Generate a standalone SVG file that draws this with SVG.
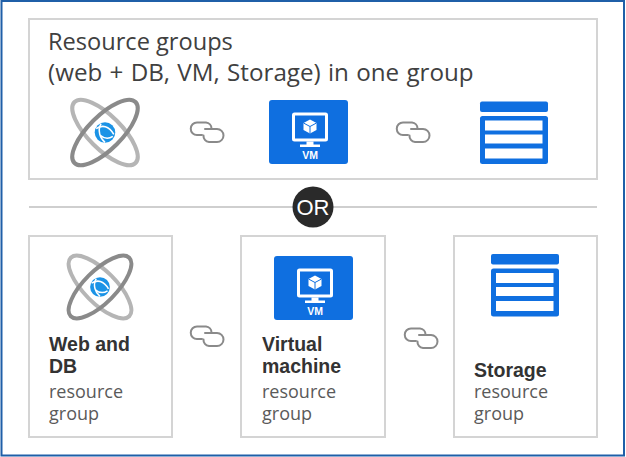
<svg xmlns="http://www.w3.org/2000/svg" width="626" height="457" viewBox="0 0 626 457">
<defs>
<style>
text{font-family:"Open Sans","Noto Sans","Liberation Sans",sans-serif;fill:#404040}
.h{font-size:23.6px}
.b{font-weight:700;font-size:19.5px;fill:#333;font-family:"Liberation Sans",Arial,sans-serif}
.r{font-size:18px;fill:#5a5a5a}
.box{fill:#fff;stroke:#d4d4d4;stroke-width:2}
.blue{fill:#0f6fe0}
</style>
<g id="link"><g fill="none" stroke="#8a8a8a" stroke-width="2" stroke-linecap="round">
<path d="M11 14H6a5.800 5.800 0 0 1 0-12.500H15a6 6 0 0 1 5.500 6"/>
<path d="M14 8H26a6 6 0 0 1 0 13H18a6 6 0 0 1-5.500-6.500"/></g></g>
<g id="orb"><g fill="none" stroke-width="4.200">
<ellipse rx="44" ry="17" transform="rotate(45)" stroke="#b5b5b5"/>
<ellipse rx="44" ry="17" transform="rotate(-45)" stroke="#8a8a8a"/></g>
<circle r="14.500" fill="#fff"/>
<circle r="10.500" fill="#1b93e6"/>
<g fill="none" stroke="#fff" stroke-width="1.600"><path d="M-9-4C-3-8 4-7 9 2"/><path d="M-4-9C-8-2-5 6 0 10"/><path d="M-5 3C0 7 5 6 8 4"/></g></g>
<g id="vm"><rect width="79" height="64" rx="3" class="blue"/>
<g fill="none" stroke="#fff"><rect x="24.500" y="14" width="33" height="26" rx="1" stroke-width="3"/></g>
<path d="M37.500 41.500H44.500V44.500H51V47H31V44.500H37.500Z" fill="#fff"/>
<path d="M41 19.500L47.500 23V30L41 33.500L34.500 30V23Z" fill="#fff"/>
<path d="M34.500 23L41 26.500L47.500 23M41 26.500V33.500" fill="none" stroke="#0f6fe0" stroke-width="1"/>
<text x="41" y="59" text-anchor="middle" style="font-size:10.500px;font-weight:700;fill:#fff;font-family:'Liberation Sans',sans-serif">VM</text></g>
<g id="tbl"><rect width="68" height="10.500" rx="2" class="blue"/>
<rect y="14.500" width="68" height="48" rx="2.500" class="blue"/>
<rect x="5" y="19" width="57.500" height="10" fill="#fff"/>
<rect x="5" y="33" width="57.500" height="9" fill="#fff"/>
<rect x="5" y="47" width="57.500" height="10" fill="#fff"/></g>
</defs>
<rect width="626" height="457" fill="#fff"/>
<rect id="frame" x="1.500" y="1" width="622.500" height="454.500" fill="none" stroke="#1f5fa8" stroke-width="2"/>
<g id="top-group">
<rect class="box" x="29" y="19" width="568" height="160"/>
<text class="h" x="48" y="50">Resource groups</text>
<text x="48" y="81" style="font-size:24.200px" word-spacing="1">(web + DB, VM, Storage) in one group</text>
</g>
<g id="top-web"><use href="#orb" transform="translate(105 132.500) scale(.98)"/></g>
<g id="top-vm"><use href="#vm" x="269" y="100"/></g>
<g id="top-storage"><use href="#tbl" x="480" y="101.500"/></g>
<g id="divider">
<line x1="29" y1="207" x2="597" y2="207" stroke="#cfcfcf" stroke-width="2"/>
<circle cx="313" cy="207" r="20.500" fill="#2a2a2a"/>
<text x="313" y="215" text-anchor="middle" style="font-size:22px;fill:#fff;font-family:'Liberation Sans',sans-serif">OR</text>
</g>
<g id="node-web">
<rect class="box" x="29" y="236" width="143" height="201"/>
<use href="#orb" transform="translate(100 287) scale(.94)"/>
<text class="b" x="49" y="351">Web and</text><text class="b" x="49" y="373">DB</text>
<text class="r" x="49" y="398">resource</text><text class="r" x="49" y="420">group</text>
</g>
<g id="node-vm">
<rect class="box" x="241" y="236" width="144" height="201"/>
<use href="#vm" x="274" y="256"/>
<text class="b" x="262" y="351">Virtual</text><text class="b" x="262" y="373">machine</text>
<text class="r" x="262" y="398">resource</text><text class="r" x="262" y="420">group</text>
</g>
<g id="node-storage">
<rect class="box" x="454" y="236" width="143" height="201"/>
<use href="#tbl" x="491" y="254"/>
<text class="b" x="474" y="377">Storage</text>
<text class="r" x="474" y="398">resource</text><text class="r" x="474" y="420">group</text>
</g>
<g id="connectors">
<use href="#link" x="191" y="121"/>
<use href="#link" x="397" y="121"/>
<use href="#link" x="191" y="325"/>
<use href="#link" x="405" y="327"/>
</g>
</svg>
